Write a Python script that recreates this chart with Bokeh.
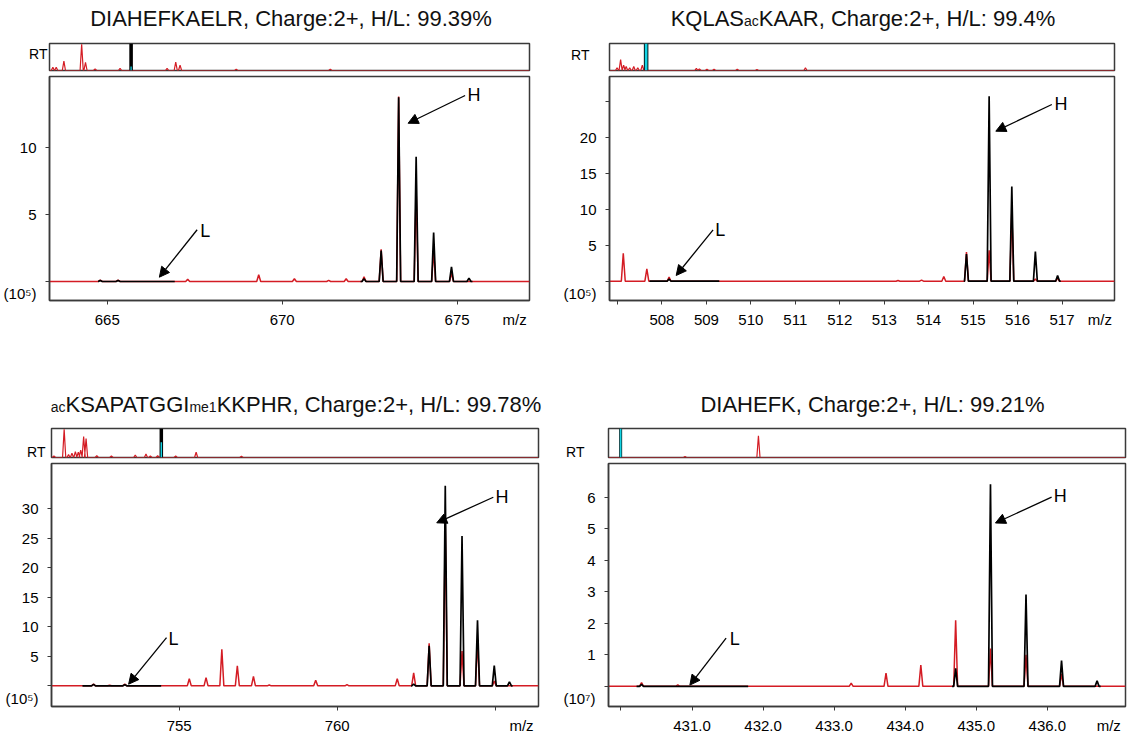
from bokeh.plotting import figure
from bokeh.layouts import column, row
from bokeh.models import Range1d, FixedTicker, Label, Arrow, NormalHead
from bokeh.core.properties import value
from bokeh.embed import file_html
from bokeh.resources import INLINE

FONT = "Liberation Sans"
RED = "#d41c24"
BLACK = "#000000"
CYAN = "#14d4e4"
FRAME = "#3a3a3a"

# ---------------- data ----------------
# Panel 1: DIAHEFKAELR
tl_red_mz = [664.80, 665.31, 667.30, 669.33, 670.35, 671.33, 671.83, 672.34, 672.83, 673.33, 673.83, 674.33, 674.84]
tl_red_int = [0.10, 0.10, 0.17, 0.50, 0.20, 0.08, 0.20, 0.35, 2.40, 13.80, 6.90, 2.30, 0.60]
tl_blk_mz = [664.80, 665.31, 672.34, 672.83, 673.33, 673.83, 674.33, 674.84, 675.34]
tl_blk_int = [0.08, 0.08, 0.20, 2.30, 13.75, 9.30, 3.65, 1.10, 0.25]
tl_blk_win = [(664.76, 666.93), (672.24, 675.44)]
tl_rt_pos = [0.7, 1.4, 3.0, 6.7, 7.5, 9.5, 14.7, 24.5, 26.3, 27.2, 38.9, 58.5]
tl_rt_int = [0.12, 0.12, 0.35, 0.97, 0.30, 0.06, 0.08, 0.08, 0.31, 0.20, 0.05, 0.05]
tl_rt_sel = 17.0
tl_rt_xic = 0.15
tl_xticks = [665, 670, 675]
tl_yticks = [0, 5, 10]
tl_ylabels = [5, 10]

# Panel 2: KQLASacKAAR
tr_red_mz = [507.13, 507.66, 508.16, 513.31, 513.84, 514.34, 514.85, 515.36, 515.87, 516.40, 516.90]
tr_red_int = [3.90, 1.72, 0.56, 0.10, 0.15, 0.65, 4.05, 4.30, 9.85, 0.30, 0.40]
tr_blk_mz = [508.16, 514.85, 515.36, 515.87, 516.40, 516.90]
tr_blk_int = [0.30, 3.80, 25.8, 13.2, 4.15, 0.80]
tr_blk_win = [(507.72, 509.29), (514.79, 516.97)]
tr_rt_pos = [1.5, 2.2, 2.8, 3.3, 4.0, 4.8, 5.6, 6.5, 17.2, 17.8, 19.3, 20.7, 25.3, 29.2, 38.8]
tr_rt_int = [0.10, 0.40, 0.20, 0.15, 0.10, 0.15, 0.10, 0.20, 0.08, 0.06, 0.05, 0.05, 0.05, 0.04, 0.10]
tr_rt_sel = 7.25
tr_rt_xic = 1.0
tr_xticks = [507, 508, 509, 510, 511, 512, 513, 514, 515, 516, 517]
tr_xlabels = [508, 509, 510, 511, 512, 513, 514, 515, 516, 517]
tr_yticks = [0, 5, 10, 15, 20, 25]
tr_ylabels = [5, 10, 15, 20]

# Panel 3: acKSAPATGGIme1KKPHR
bl_red_mz = [752.29, 752.80, 753.28, 755.32, 755.85, 756.35, 756.84, 757.35, 757.85, 759.32, 760.31,
             761.90, 762.42, 762.91, 763.42, 763.95, 764.44, 764.97]
bl_red_int = [0.30, 0.10, 0.30, 1.20, 1.40, 6.20, 3.40, 1.60, 0.15, 0.95, 0.20,
              1.20, 2.20, 7.20, 27.3, 5.90, 7.70, 0.80]
bl_blk_mz = [752.29, 753.28, 762.42, 762.91, 763.42, 763.95, 764.44, 764.97, 765.45]
bl_blk_int = [0.25, 0.20, 0.30, 6.80, 33.9, 25.4, 11.1, 3.45, 0.67]
bl_blk_win = [(751.94, 754.43), (762.34, 765.55)]
bl_rt_pos = [0.5, 2.6, 3.5, 4.2, 4.9, 5.5, 6.0, 6.6, 7.1, 9.3, 12.3, 17.2, 19.4, 20.3, 21.8, 25.5, 29.7, 39.0]
bl_rt_int = [0.05, 0.97, 0.10, 0.15, 0.20, 0.18, 0.25, 0.72, 0.65, 0.06, 0.05, 0.08, 0.12, 0.05, 0.06, 0.05, 0.18, 0.04]
bl_rt_sel = 22.55
bl_rt_xic = 0.53
bl_xticks = [755, 760, 765]
bl_xlabels = [755, 760]
bl_yticks = [0, 5, 10, 15, 20, 25, 30]
bl_ylabels = [5, 10, 15, 20, 25, 30]

# Panel 4: DIAHEFK
br_red_mz = [430.29, 430.80, 433.24, 433.73, 434.22, 434.71, 435.20, 435.70, 436.20]
br_red_int = [0.12, 0.05, 0.10, 0.42, 0.68, 2.10, 1.20, 1.00, 0.40]
br_blk_mz = [430.29, 434.71, 435.20, 435.70, 436.20, 436.70]
br_blk_int = [0.06, 0.57, 6.42, 2.92, 0.82, 0.18]
br_blk_win = [(430.22, 431.79), (434.66, 436.75)]
br_rt_pos = [14.8, 29.0]
br_rt_int = [0.03, 0.75]
br_rt_sel = 2.35
br_rt_xic = 1.0
br_xticks = [430, 431, 432, 433, 434, 435, 436]
br_xlabels = [431, 432, 433, 434, 435, 436]
br_yticks = [0, 1, 2, 3, 4, 5, 6]
br_ylabels = [1, 2, 3, 4, 5, 6]

# ---------------- helpers ----------------
AW = {' ': 278, '%': 889, '(': 333, ')': 333, '+': 584, ',': 278, '-': 333, '.': 278, '/': 278, ':': 278,
      'A': 667, 'B': 667, 'C': 722, 'D': 722, 'E': 667, 'F': 611, 'G': 778, 'H': 722, 'I': 278, 'J': 500,
      'K': 667, 'L': 556, 'M': 833, 'N': 722, 'O': 778, 'P': 667, 'Q': 778, 'R': 722, 'S': 667, 'T': 611,
      'U': 722, 'V': 667, 'W': 944, 'X': 667, 'Y': 667, 'Z': 611,
      'a': 556, 'b': 556, 'c': 500, 'd': 556, 'e': 556, 'f': 278, 'g': 556, 'h': 556, 'i': 222, 'j': 222,
      'k': 500, 'l': 222, 'm': 833, 'n': 556, 'o': 556, 'p': 556, 'q': 556, 'r': 333, 's': 500, 't': 278,
      'u': 556, 'v': 500, 'w': 722, 'x': 500, 'y': 500, 'z': 500}
KERN = {"AT": -74, "TA": -74, "PA": -74, "AV": -74, "AY": -74, "LT": -74, "LY": -74, "AW": -37}


def text_w(s, size):
    w = sum(AW.get(ch, 556) for ch in s)
    w += sum(KERN.get(s[i:i + 2], 0) for i in range(len(s) - 1))
    return w * size / 1000.0


def build_trace(mz, inten, x0, x1, hw):
    xs, ys = [x0], [0.0]
    for m, h in sorted(zip(mz, inten)):
        xs += [m - hw, m, m + hw]
        ys += [0.0, h, 0.0]
    xs.append(x1)
    ys.append(0.0)
    return xs, ys


TITLE_SIZE = 22
SUB_SIZE = 14
MID_K = 0.36   # distance (in em) from the text baseline up to the "middle" anchor


def style_axis(ax, size="15px"):
    ax.major_label_text_font = FONT
    ax.major_label_text_font_size = size
    ax.major_label_text_color = "black"


def make_title(c):
    W, th, top = c["W"], c["title_h"], c["top"]
    tf = figure(width=W, height=th, x_range=Range1d(0, W), y_range=Range1d(0, th),
                x_axis_location=None, y_axis_location=None, toolbar_location=None,
                output_backend="svg", min_border=0, min_border_left=0, min_border_right=0,
                min_border_top=0, min_border_bottom=0)
    if hasattr(tf, "frame_align"):
        tf.frame_align = False
    tf.grid.visible = False
    tf.outline_line_color = None
    parts = c["title"]
    total = sum(text_w(s, SUB_SIZE if k == "s" else TITLE_SIZE) for s, k in parts)
    px = c["title_cx"] - total / 2.0
    for s, k in parts:
        size = SUB_SIZE if k == "s" else TITLE_SIZE
        anchor_page = c["title_base"] - MID_K * size
        yb = top + th - anchor_page
        tf.text(x=[px], y=[yb], text=[s], text_font=value(FONT), text_font_size=value("%dpx" % size),
                text_color="#111111", text_align=value("left"), text_baseline=value("middle"))
        px += text_w(s, size)
    return tf


def make_plots(c):
    x0, top = c["x0"], c["top"]
    W, left, fw, right = c["W"], c["left"], c["fw"], c["right"]
    th, rt_h, main_h, bottom = c["title_h"], c["rt_h"], c["main_h"], c["bottom"]
    xr0, xr1 = c["xr"]
    yr0, yr1 = c["yr"]
    rtop = top + th + 2
    mtop = rtop + rt_h + 6

    def ry(py):
        return 1.0 - (py - rtop) / rt_h

    def mx(px):
        return round(xr0 + (px - x0 - left) / fw * (xr1 - xr0), 3)

    def my(py):
        return round(yr1 - (py - mtop) / main_h * (yr1 - yr0), 3)

    # ---------- RT strip ----------
    rt = figure(width=W, height=2 + rt_h + 4, x_range=Range1d(0, 100), y_range=Range1d(0, 1.0),
                x_axis_location=None, y_axis_location="left", toolbar_location=None,
                output_backend="svg", min_border_left=left, min_border_right=right,
                min_border_top=2, min_border_bottom=4)
    rt.grid.visible = False
    rt.outline_line_color = FRAME
    rt.outline_line_width = 1.5
    yrt = round(ry(c["rt_label_y"]), 3)
    rt.yaxis.ticker = FixedTicker(ticks=[yrt])
    rt.yaxis.major_label_overrides = {yrt: "RT"}
    rt.yaxis.major_tick_out = 0
    rt.yaxis.major_tick_in = 0
    rt.yaxis.major_tick_line_color = None
    rt.yaxis.minor_tick_line_color = None
    rt.yaxis.axis_line_color = None
    rt.yaxis.major_label_standoff = c["rt_standoff"]
    style_axis(rt.yaxis, "14px")
    hw_rt = 1.6 / fw * 100.0
    xs, ys = build_trace(c["rt_pos"], c["rt_int"], 0, 100, hw_rt)
    rt.line(xs, ys, line_color=RED, line_width=1.2)
    rt.vbar(x=[c["rt_sel"]], top=[1.0], bottom=0, width=c["band_px"] / fw * 100.0,
            fill_color=BLACK, line_color=None)
    rt.vbar(x=[c["rt_sel"]], top=[c["rt_xic"]], bottom=0, width=c["xic_px"] / fw * 100.0,
            fill_color=CYAN, line_color=None)

    # ---------- main spectrum ----------
    mp = figure(width=W, height=2 + main_h + bottom, x_range=Range1d(xr0, xr1), y_range=Range1d(yr0, yr1),
                toolbar_location=None, output_backend="svg", min_border_left=left,
                min_border_right=right, min_border_top=2, min_border_bottom=bottom)
    mp.xgrid.visible = False
    mp.ygrid.visible = False
    mp.outline_line_color = FRAME
    mp.outline_line_width = 1.5
    for ax in (mp.xaxis, mp.yaxis):
        ax.major_tick_out = 0
        ax.major_tick_in = 0
        ax.major_tick_line_color = None
        ax.minor_tick_out = 4
        ax.minor_tick_in = 0
        ax.minor_tick_line_color = FRAME
        ax.minor_tick_line_width = 1
        ax.axis_line_color = FRAME
        ax.axis_line_width = 1.5
        style_axis(ax)
    mzpos = mx(c["mz_label_x"])
    mp.xaxis.ticker = FixedTicker(ticks=list(c["xlabels"]) + [mzpos], minor_ticks=c["xticks"])
    xover = {mzpos: "m/z"}
    if c.get("xfmt"):
        for t in c["xlabels"]:
            xover[t] = c["xfmt"] % t
    mp.xaxis.major_label_overrides = xover
    mp.xaxis.major_label_standoff = 6
    ypos = my(c["exp_y"])
    mp.yaxis.ticker = FixedTicker(ticks=list(c["ylabels"]) + [ypos], minor_ticks=c["yticks"])
    mp.yaxis.major_label_overrides = {ypos: "(10" + c["exp"] + ")"}
    mp.yaxis.major_label_standoff = 9

    hw = 2.0 / fw * (xr1 - xr0)
    xs, ys = build_trace(c["red_mz"], c["red_int"], xr0, xr1, hw)
    mp.line(xs, ys, line_color=RED, line_width=1.5)
    for a, b in c["blk_win"]:
        pm = [m for m in c["blk_mz"] if a <= m <= b]
        pi = [h for m, h in zip(c["blk_mz"], c["blk_int"]) if a <= m <= b]
        xs, ys = build_trace(pm, pi, a, b, hw)
        mp.line(xs, ys, line_color=BLACK, line_width=1.7)

    for lab, (tx, ty), (sx, sy), (ex, ey) in c["arrows"]:
        mp.add_layout(Arrow(end=NormalHead(size=10, fill_color="black", line_color="black", line_width=1),
                            x_start=sx, y_start=sy, x_end=ex, y_end=ey, line_color="black", line_width=1.3))
        mp.add_layout(Label(x=tx, y=ty, text=lab, text_font=FONT, text_font_size="18px",
                            text_color="black", text_align="left", text_baseline="middle"))
    return column(rt, mp)


TL = dict(x0=0, top=0, W=560, left=46, fw=483, right=31, title_h=41, rt_h=27, main_h=224, bottom=80,
          xr=(663.35, 677.07), yr=(-1.42, 15.30),
          xticks=tl_xticks, xlabels=tl_xticks, yticks=tl_yticks, ylabels=tl_ylabels,
          red_mz=tl_red_mz, red_int=tl_red_int, blk_mz=tl_blk_mz, blk_int=tl_blk_int, blk_win=tl_blk_win,
          rt_pos=tl_rt_pos, rt_int=tl_rt_int, rt_sel=tl_rt_sel, rt_xic=tl_rt_xic, band_px=3.6, xic_px=1.3,
          rt_label_y=54, rt_standoff=2,
          title=[("DIAHEFKAELR, Charge:2+, H/L: 99.39%", "n")], title_cx=290.5, title_base=26,
          arrows=[("H", (675.30, 13.95), (675.23, 13.88), (673.60, 11.81)),
                  ("L", (667.66, 3.80), (667.57, 3.86), (666.49, 0.32))],
          mz_label_x=514, exp="\u2075", exp_y=293)

TR = dict(x0=560, top=0, W=575, left=38, fw=516, right=21, title_h=41, rt_h=27, main_h=224, bottom=80,
          xr=(506.82, 518.18), yr=(-2.69, 28.55),
          xticks=tr_xticks, xlabels=tr_xlabels, yticks=tr_yticks, ylabels=tr_ylabels,
          red_mz=tr_red_mz, red_int=tr_red_int, blk_mz=tr_blk_mz, blk_int=tr_blk_int, blk_win=tr_blk_win,
          rt_pos=tr_rt_pos, rt_int=tr_rt_int, rt_sel=tr_rt_sel, rt_xic=tr_rt_xic, band_px=4.6, xic_px=2.8,
          rt_label_y=55, rt_standoff=20,
          title=[("KQLAS", "n"), ("ac", "s"), ("KAAR, Charge:2+, H/L: 99.4%", "n")],
          title_cx=302.5, title_base=26,
          arrows=[("H", (516.83, 24.74), (516.77, 24.64), (515.51, 20.92)),
                  ("L", (509.20, 7.17), (509.15, 7.17), (508.32, 0.80))],
          mz_label_x=1099, exp="\u2075", exp_y=293)

BL = dict(x0=0, top=380, W=560, left=51, fw=487, right=22, title_h=46, rt_h=29, main_h=247, bottom=26,
          xr=(750.96, 766.37), yr=(-3.5, 37.67),
          xticks=bl_xticks, xlabels=bl_xlabels, yticks=bl_yticks, ylabels=bl_ylabels,
          red_mz=bl_red_mz, red_int=bl_red_int, blk_mz=bl_blk_mz, blk_int=bl_blk_int, blk_win=bl_blk_win,
          rt_pos=bl_rt_pos, rt_int=bl_rt_int, rt_sel=bl_rt_sel, rt_xic=bl_rt_xic, band_px=3.5, xic_px=1.5,
          rt_label_y=454, rt_standoff=6,
          title=[("ac", "s"), ("KSAPATGGI", "n"), ("me1", "s"), ("KKPHR, Charge:2+, H/L: 99.78%", "n")],
          title_cx=295.5, title_base=411.7,
          arrows=[("H", (765.01, 32.05), (764.94, 31.95), (763.15, 27.62)),
                  ("L", (754.66, 7.88), (754.60, 8.17), (753.40, 0.28))],
          mz_label_x=521, exp="\u2075", exp_y=702)

BR = dict(x0=560, top=380, W=575, left=42, fw=523, right=10, title_h=46, rt_h=29, main_h=247, bottom=26,
          xr=(429.825, 437.10), yr=(-0.64, 7.08),
          xticks=br_xticks, xlabels=br_xlabels, xfmt="%.1f", yticks=br_yticks, ylabels=br_ylabels,
          red_mz=br_red_mz, red_int=br_red_int, blk_mz=br_blk_mz, blk_int=br_blk_int, blk_win=br_blk_win,
          rt_pos=br_rt_pos, rt_int=br_rt_int, rt_sel=br_rt_sel, rt_xic=br_rt_xic, band_px=3.0, xic_px=1.8,
          rt_label_y=455, rt_standoff=24,
          title=[("DIAHEFK, Charge:2+, H/L: 99.21%", "n")], title_cx=312, title_base=411.7,
          arrows=[("H", (436.09, 6.05), (436.06, 6.01), (435.27, 5.19)),
                  ("L", (431.53, 1.49), (431.48, 1.53), (430.97, 0.04))],
          mz_label_x=1108, exp="\u2077", exp_y=702)

p = column(row(make_title(TL), make_title(TR)),
           row(make_plots(TL), make_plots(TR)),
           row(make_title(BL), make_title(BR)),
           row(make_plots(BL), make_plots(BR)))

open("out.html", "w").write(file_html(p, INLINE))
